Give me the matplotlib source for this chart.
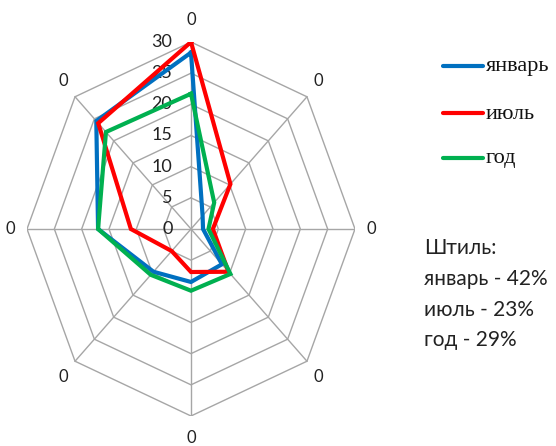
import numpy as np
import matplotlib.pyplot as plt

# wind directions clockwise from north (all labelled "0" in the original)
directions = ["0", "0", "0", "0", "0", "0", "0", "0"]
january = [28.3, 3.0, 2.2, 8.0, 8.5, 9.7, 17.0, 24.5]
july = [30.0, 10.2, 4.0, 9.7, 6.9, 5.0, 11.0, 24.0]
year = [21.7, 6.0, 3.2, 10.2, 9.9, 10.4, 17.0, 22.0]
series_names = ["январь", "июль", "год"]
series_colors = ["#0070C0", "#FF0000", "#00B050"]
rings = [5, 10, 15, 20, 25, 30]
ring_labels = ["0", "5", "10", "15", "20", "25", "30"]
calm_lines = ["Штиль:", "январь - 42%", "июль - 23%", "год - 29%"]

W, H = 556, 446
fig = plt.figure(figsize=(W / 100, H / 100), dpi=100)

# axes box: centre at (191, 229) px, radius 164 px horizontally, 187 px vertically
cx, cy, rx, ry = 191, 229, 164, 187
ax = fig.add_axes([(cx - rx) / W, (H - cy - ry) / H, 2 * rx / W, 2 * ry / H])
ax.set_xlim(-30, 30)
ax.set_ylim(-30, 30)
ax.set_aspect("auto")
ax.axis("off")

angles = np.arange(len(directions)) * 2 * np.pi / len(directions)


def to_xy(values):
    v = np.asarray(values + values[:1], dtype=float)
    a = np.concatenate([angles, angles[:1]])
    return v * np.sin(a), v * np.cos(a)


# grid
grid_color = "#a6a6a6"
for r in rings:
    gx, gy = to_xy([r] * len(directions))
    ax.plot(gx, gy, color=grid_color, lw=1, zorder=1)
for a in angles:
    ax.plot([0, 30 * np.sin(a)], [0, 30 * np.cos(a)], color=grid_color, lw=1, zorder=1)

# series
for vals, name, col in zip([january, july, year], series_names, series_colors):
    sx, sy = to_xy(vals)
    ax.plot(sx, sy, color=col, lw=3, solid_joinstyle="miter", zorder=3)

# direction labels
for a, lab in zip(angles, directions):
    ax.text(33.0 * np.sin(a), 33.6 * np.cos(a), lab, ha="center", va="center",
            fontsize=12, family="Lato", color="#222222", clip_on=False)

# radial tick labels along the north axis
for i, lab in enumerate(ring_labels):
    ax.text(-3.4, i * 5, lab, ha="right", va="center", fontsize=13,
            family="Lato", color="#222222", zorder=2)

# legend drawn by hand to match the spacing
leg_y = [66, 113, 158]
for y, name, col in zip(leg_y, series_names, series_colors):
    fig.add_artist(plt.Line2D([443 / W, 483 / W], [1 - y / H, 1 - y / H],
                              color=col, lw=3, solid_capstyle="round"))
    fig.text(486 / W, 1 - (y + 1) / H, name, ha="left", va="center",
             fontsize=16, family="Liberation Serif", color="#111111")

# calm text
calm_y = [248, 279, 310, 340]
for y, line in zip(calm_y, calm_lines):
    fig.text(424 / W, 1 - y / H, line, ha="left", va="center",
             fontsize=15, family="Lato", color="#222222")

fig.savefig("out.png", dpi=100)
